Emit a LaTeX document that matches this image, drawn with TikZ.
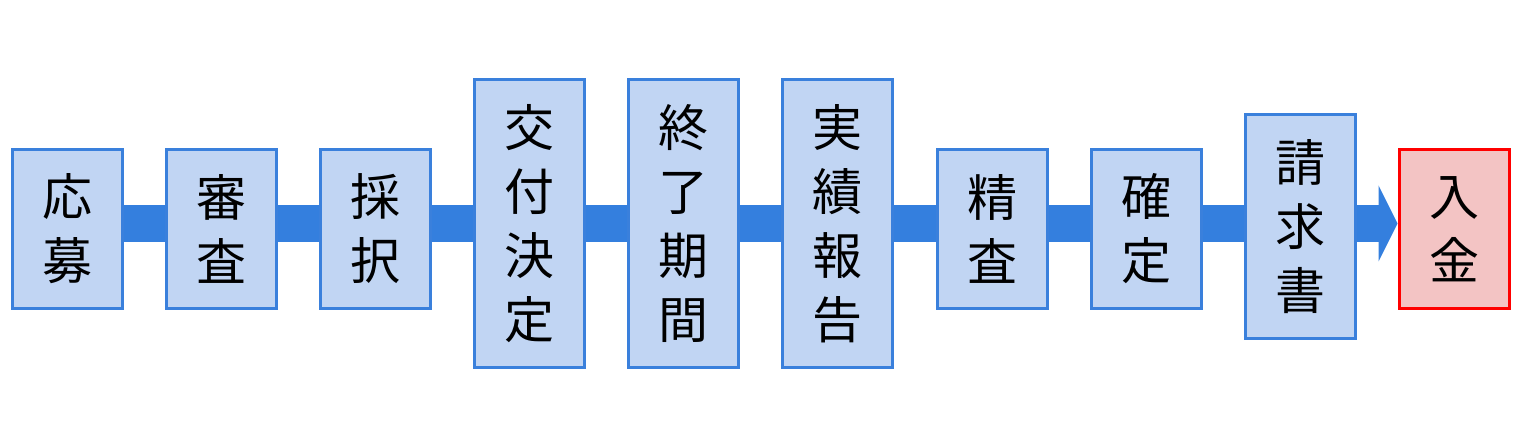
\documentclass[tikz,border=0pt]{standalone}
\usepackage{fontspec}
\newfontfamily\jp{Noto Sans CJK JP}
\usetikzlibrary{backgrounds}
\definecolor{boxfill}{RGB}{193,213,243}
\definecolor{boxline}{RGB}{58,128,220}
\definecolor{bandblue}{RGB}{52,127,222}
\definecolor{redfill}{RGB}{243,196,196}
\definecolor{redline}{RGB}{255,0,0}
\begin{document}
\begin{tikzpicture}[x=1pt,y=1pt,
  stepbox/.style={draw=boxline, fill=boxfill, line width=3pt, minimum width=110pt, inner sep=0pt, align=center,
    font=\jp\fontsize{50pt}{64pt}\selectfont},
  shortbox/.style={stepbox, minimum height=159pt},
  tallbox/.style={stepbox, minimum height=288pt},
  midbox/.style={stepbox, minimum height=224pt},
  endbox/.style={shortbox, draw=redline, fill=redfill},
  band/.style={draw=bandblue, line width=37pt}]
\useasboundingbox (0,0) rectangle (1522,444);
\node[shortbox] (a1) at (67,215) {応\\募};
\node[shortbox] (a2) at (221,215) {審\\査};
\node[shortbox] (a3) at (375,215) {採\\択};
\node[tallbox] (a4) at (529.5,220.5) {交\\付\\決\\定};
\node[tallbox] (a5) at (683.5,220.5) {終\\了\\期\\間};
\node[tallbox] (a6) at (837.5,220.5) {実\\績\\報\\告};
\node[shortbox] (a7) at (992,215) {精\\査};
\node[shortbox] (a8) at (1146,215) {確\\定};
\node[midbox] (a9) at (1300,217.5) {請\\求\\書};
\node[endbox] (a10) at (1454,215) {入\\金};
\coordinate (bandy) at (0,220.5);
\path (a10.west |- bandy) coordinate (tip) ++(-19,0) coordinate (hb);
\begin{scope}[on background layer]
\draw[band] (a1.center |- bandy) -- (a9.center |- bandy);
\draw[band] (a9.center |- bandy) -- ([xshift=1pt]hb);
\fill[bandblue] ([yshift=38pt]hb) -- (tip) -- ([yshift=-38pt]hb) -- cycle;
\end{scope}
\end{tikzpicture}
\end{document}
